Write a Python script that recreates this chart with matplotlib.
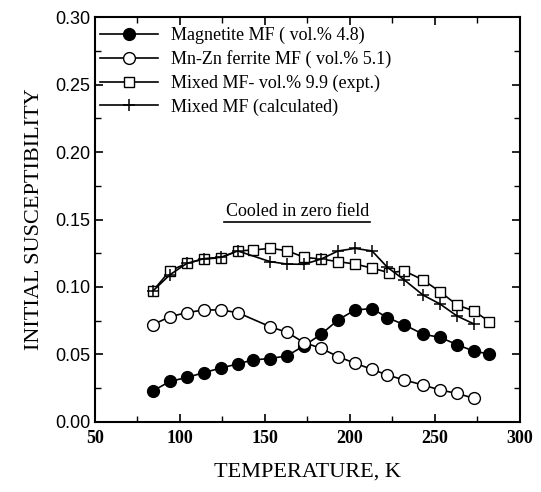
import matplotlib.pyplot as plt
from matplotlib.ticker import MultipleLocator

# values
t_mag = [84, 94, 104, 114, 124, 134, 143, 153, 163, 173, 183, 193, 203, 213, 222, 232, 243, 253, 263, 273, 282]
chi_mag = [0.023, 0.030, 0.033, 0.0365, 0.040, 0.043, 0.046, 0.047, 0.049, 0.0565, 0.065, 0.0756, 0.083, 0.084,
           0.0773, 0.072, 0.065, 0.0627, 0.0573, 0.0524, 0.0504]

t_mnzn = [84, 94, 104, 114, 124, 134, 153, 163, 173, 183, 193, 203, 213, 222, 232, 243, 253, 263, 273]
chi_mnzn = [0.072, 0.078, 0.081, 0.083, 0.083, 0.081, 0.0706, 0.0664, 0.0588, 0.0546, 0.0484, 0.0435, 0.039,
            0.0348, 0.0311, 0.0274, 0.0237, 0.0212, 0.0175]

t_mix = [84, 94, 104, 114, 124, 134, 143, 153, 163, 173, 183, 193, 203, 213, 223, 232, 243, 253, 263, 273, 282]
chi_mix = [0.097, 0.112, 0.1175, 0.1207, 0.1217, 0.1267, 0.1274, 0.1286, 0.1269, 0.122, 0.1207, 0.1188, 0.117,
           0.114, 0.1106, 0.1119, 0.1052, 0.0965, 0.0867, 0.0822, 0.0743]

t_calc = [84, 94, 104, 114, 124, 134, 153, 163, 173, 183, 193, 203, 213, 222, 232, 243, 253, 263, 273]
chi_calc = [0.097, 0.109, 0.1175, 0.121, 0.122, 0.1267, 0.1188, 0.117, 0.1168, 0.1207, 0.1267, 0.1286, 0.1267,
            0.1146, 0.1052, 0.094, 0.0874, 0.0785, 0.0726]

serif = 'Liberation Serif'

fig = plt.figure(figsize=(5.41, 4.92), dpi=100)
ax = fig.add_axes([0.1756, 0.1423, 0.7855, 0.8231])

ax.plot(t_mag, chi_mag, '-o', color='black', mfc='black', ms=8.5, lw=1.2,
        label='Magnetite MF ( vol.% 4.8)')
ax.plot(t_mnzn, chi_mnzn, '-o', color='black', mfc='white', ms=8.5, lw=1.2,
        label='Mn-Zn ferrite MF ( vol.% 5.1)')
ax.plot(t_mix, chi_mix, '-s', color='black', mfc='white', ms=7, lw=1.2,
        label='Mixed MF- vol.% 9.9 (expt.)')
ax.plot(t_calc, chi_calc, '-+', color='black', ms=9, mew=1.1, lw=1.2,
        label='Mixed MF (calculated)')

ax.set_xlim(50, 300)
ax.set_ylim(0, 0.30)
ax.xaxis.set_major_locator(MultipleLocator(50))
ax.xaxis.set_minor_locator(MultipleLocator(25))
ax.yaxis.set_major_locator(MultipleLocator(0.05))
ax.yaxis.set_minor_locator(MultipleLocator(0.025))
ax.yaxis.set_major_formatter(plt.FormatStrFormatter('%.2f'))
ax.tick_params(which='both', direction='in', top=True, right=True)
ax.tick_params(which='major', length=6, width=1.2)
ax.tick_params(which='minor', length=4, width=1)
ax.tick_params(axis='x', labelsize=13, pad=6)
ax.tick_params(axis='y', labelsize=13)
for lab in ax.get_xticklabels():
    lab.set_family(serif)
    lab.set_weight('bold')
for lab in ax.get_yticklabels():
    lab.set_family('Liberation Sans')
for s in ax.spines.values():
    s.set_linewidth(1.5)

ax.set_xlabel('TEMPERATURE, K', family=serif, fontsize=16, labelpad=11)
ax.set_ylabel('INITIAL SUSCEPTIBILITY', family=serif, fontsize=16, labelpad=8)

ax.text(169, 0.150, 'Cooled in zero field', family=serif, fontsize=13,
        ha='center', va='bottom')
ax.plot([126, 211.5], [0.1485, 0.1485], color='black', lw=1.2)

ax.legend(loc='upper left', bbox_to_anchor=(0, 0.989), frameon=False,
          prop={'family': serif, 'size': 13},
          handlelength=3.2, handletextpad=0.7, labelspacing=0.35,
          borderaxespad=0, borderpad=0.3)

fig.savefig('out.png', dpi=100)
